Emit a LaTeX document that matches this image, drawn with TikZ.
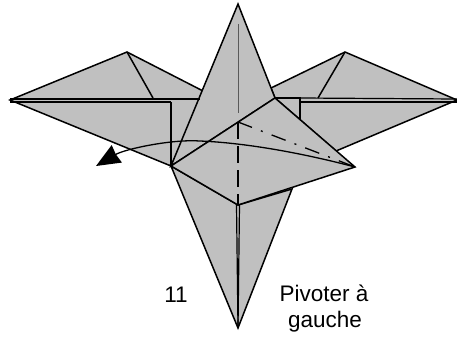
\documentclass[tikz,border=0pt]{standalone}
\usepackage{fontspec}
\setmainfont{Liberation Sans}
\usetikzlibrary{arrows.meta}
\definecolor{paper}{HTML}{C0C0C0}
\tikzset{
  fold/.style={draw=black, line width=1.5pt, line join=miter, fill=paper},
  edge/.style={draw=black, line width=1.5pt},
  thin crease/.style={draw=black, line width=1.2pt},
  soft crease/.style={draw=black!65, line width=1pt},
  valley/.style={draw=black, line width=1.3pt, dash pattern=on 17pt off 7pt},
  mountain/.style={draw=black, line width=1.3pt, dash pattern=on 15pt off 9.5pt on 2pt off 9.5pt},
  turn/.style={draw=black, line width=1.3pt, -{Stealth[inset=1pt, length=24pt, width=20pt]}},
  label/.style={font=\fontsize{22.5}{24}\selectfont, inner sep=0pt, align=center}
}
\begin{document}
\begin{tikzpicture}[x=1pt, y=-1pt]
  \useasboundingbox (0,0) rectangle (457,337);
  \coordinate (apex) at (238,4);
  \coordinate (foot) at (238,328);
  \coordinate (ltip) at (10,100);
  \coordinate (ltop) at (127,52);
  \coordinate (lcrease) at (153,98);
  \coordinate (lback) at (205,92);
  \coordinate (lcorner) at (171,166);
  \coordinate (lup) at (10,99);
  \coordinate (ldown) at (10,102);
  \coordinate (lbox) at (171,102);
  \coordinate (lin) at (200,99);
  \coordinate (rtip) at (457,100);
  \coordinate (rtop) at (345,52);
  \coordinate (rcrease) at (318,98);
  \coordinate (rback) at (271,88);
  \coordinate (rcorner) at (275,98);
  \coordinate (rbox) at (300,98);
  \coordinate (rboxend) at (300,120);
  \coordinate (rup) at (457,99);
  \coordinate (rdown) at (457,102);
  \coordinate (rin) at (300,102);
  \coordinate (rlow) at (336,151);
  \coordinate (flap) at (355,167);
  \coordinate (mid) at (238,205);
  \coordinate (rfoot) at (292,189);
  \coordinate (cross) at (238,122);
  \coordinate (creasetop) at (238,24);
  \coordinate (creaseend) at (238,113);
  \coordinate (tip) at (96,166);

  \path [fold] (ltip) -- (ltop) -- (lback) -- (lcorner) -- cycle;
  \path [fold] (rtip) -- (rtop) -- (rback) -- (rcorner) -- (rlow) -- cycle;
  \path [fold] (lcorner) -- (foot) -- (rfoot) -- (mid) -- cycle;
  \path [fold] (lcorner) -- (apex) -- (rcorner) -- cycle;
  \path [fold] (lcorner) -- (rcorner) -- (flap) -- (mid) -- cycle;

  \draw [edge] (ltop) -- (lcrease);
  \draw [edge] (rtop) -- (rcrease);
  \draw [thin crease] (lup) -- (lin);
  \draw [thin crease] (ldown) -- (lbox);
  \draw [edge] (lbox) -- (lcorner);
  \draw [thin crease] (rup) -- (rbox);
  \draw [thin crease] (rdown) -- (rin);
  \draw [edge] (rcorner) -- (rbox) -- (rboxend);
  \draw [thin crease] (236.5,205) -- (foot);
  \draw [thin crease] (239.5,205) -- (foot);
  \draw [soft crease] (creasetop) -- (creaseend);
  \draw [valley] (cross) -- (mid);
  \draw [mountain] (cross) -- (flap);
  \draw [turn] (flap) .. controls (310,155) and (250,143) .. (200,141)
    .. controls (172,139) and (125,149) .. (tip);

  \node [label] (num) at (176,295) {11};
  \node [label] (pivot) at (324,293) {Pivoter à};
  \node [label] (dir) at (325,322) {gauche};
\end{tikzpicture}
\end{document}
